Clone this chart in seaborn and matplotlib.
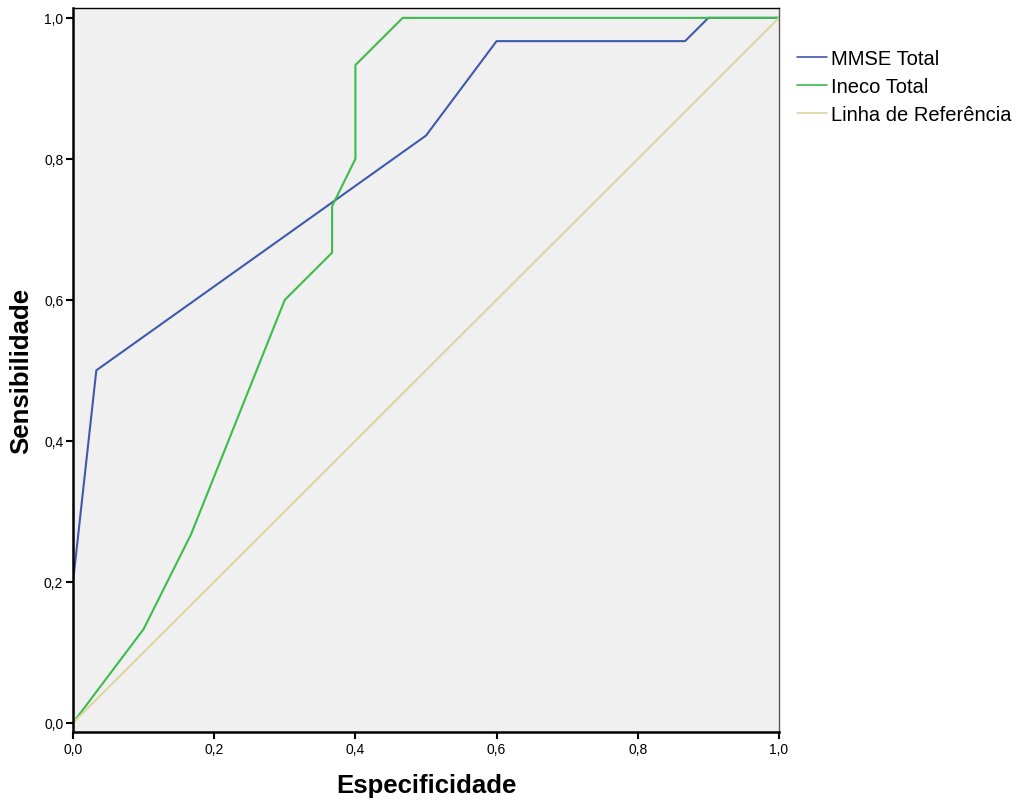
import matplotlib
matplotlib.use("Agg")
import matplotlib.pyplot as plt
import seaborn as sns
import pandas as pd
from matplotlib.ticker import FuncFormatter

# ROC coordinates (1 - specificity, sensitivity)
mmse_x = [0.0, 0.0, 0.033, 0.5, 0.6, 0.867, 0.9, 1.0]
mmse_y = [0.0, 0.2, 0.5, 0.833, 0.967, 0.967, 1.0, 1.0]
ineco_x = [0.0, 0.1, 0.167, 0.3, 0.367, 0.367, 0.4, 0.4, 0.467, 1.0]
ineco_y = [0.0, 0.133, 0.267, 0.6, 0.667, 0.733, 0.8, 0.933, 1.0, 1.0]
ref_x = [0.0, 1.0]
ref_y = [0.0, 1.0]
series_names = ["MMSE Total", "Ineco Total", "Linha de Referência"]
colors = ["#3f5aad", "#3dbb4c", "#dcd6a4"]

rows = []
for name, xs, ys in zip(series_names, [mmse_x, ineco_x, ref_x], [mmse_y, ineco_y, ref_y]):
    for i, (xv, yv) in enumerate(zip(xs, ys)):
        rows.append({"serie": name, "ordem": i, "x": xv, "y": yv})
df = pd.DataFrame(rows)

sns.set_theme(style="white")
plt.rcParams["font.family"] = ["Liberation Sans", "DejaVu Sans"]

fig = plt.figure(figsize=(10.2, 8.03), dpi=100)
ax = fig.add_axes([0.0716, 0.0872, 0.6921, 0.9016])
ax.set_facecolor("#f0f0f0")

sns.lineplot(data=df, x="x", y="y", hue="serie", hue_order=series_names,
             palette=colors, units="serie", estimator=None, sort=False,
             linewidth=1.5, ax=ax)

ax.set_xlim(0, 1.0)
ax.set_ylim(-0.013, 1.014)
ticks = [0.0, 0.2, 0.4, 0.6, 0.8, 1.0]
ax.set_xticks(ticks)
ax.set_yticks(ticks)
fmt = FuncFormatter(lambda v, p: f"{v:.1f}".replace(".", ","))
ax.xaxis.set_major_formatter(fmt)
ax.yaxis.set_major_formatter(fmt)
ax.tick_params(axis="both", which="major", direction="out", length=5, width=1.5,
               color="black", labelsize=10, labelcolor="black", pad=2,
               bottom=True, left=True)
for side, sp in ax.spines.items():
    sp.set_color("black")
    sp.set_linewidth(1.0)
ax.spines["left"].set_linewidth(1.8)
ax.spines["bottom"].set_linewidth(1.8)
ax.spines["right"].set_color("#555555")

ax.set_xlabel("Especificidade", fontsize=18.5, fontweight="bold", color="black")
ax.set_ylabel("Sensibilidade", fontsize=18.5, fontweight="bold", color="black")
ax.xaxis.set_label_coords(0.5, -0.057)
ax.yaxis.set_label_coords(-0.057, 0.5)

leg = ax.legend(loc="upper left", bbox_to_anchor=(1.0135, 0.955), frameon=False,
                fontsize=14.5, handlelength=1.5, handletextpad=0.2,
                labelspacing=0.45, borderaxespad=0)
for line in leg.get_lines():
    line.set_linewidth(1.2)
for txt in leg.get_texts():
    txt.set_color("black")

fig.savefig("out.png", dpi=100)
